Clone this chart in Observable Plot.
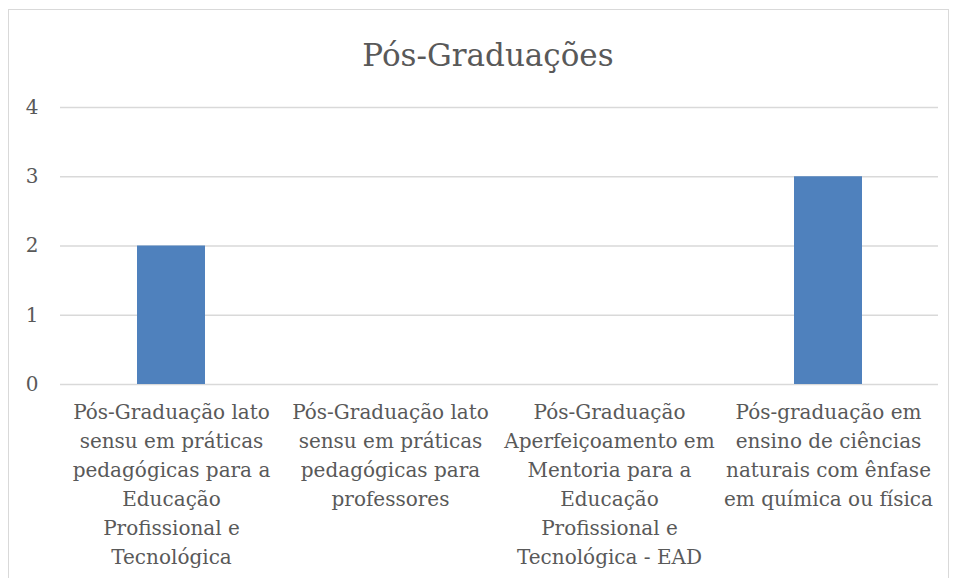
<!DOCTYPE html>
<html><head><meta charset="utf-8">
<script src="https://cdn.jsdelivr.net/npm/d3@7"></script>
<script src="https://cdn.jsdelivr.net/npm/@observablehq/plot@0.6"></script>
<style>
body{margin:0;background:#fff;}
#wrap{position:relative;width:953px;height:578px;overflow:hidden;font-family:"DejaVu Serif",serif;}
#frame{position:absolute;left:8px;top:9px;width:941px;height:600px;border:1.5px solid #d9d9d9;box-sizing:border-box;}
#title{position:absolute;left:0;top:37px;width:976px;text-align:center;font-size:31px;color:#595959;}
#chart{position:absolute;left:0;top:80px;}
</style></head><body>
<div id="wrap"><div id="frame"></div><div id="title">Pós-Graduações</div><div id="chart"></div></div>
<script>
const categories = [
  "Pós-Graduação lato sensu em práticas pedagógicas para a Educação Profissional e Tecnológica",
  "Pós-Graduação lato sensu em práticas pedagógicas para professores",
  "Pós-Graduação Aperfeiçoamento em Mentoria para a Educação Profissional e Tecnológica - EAD",
  "Pós-graduação em ensino de ciências naturais com ênfase em química ou física"
];
const values = [2, 0, 0, 3];
const tickLabels = [
  "Pós-Graduação lato\nsensu em práticas\npedagógicas para a\nEducação\nProfissional e\nTecnológica",
  "Pós-Graduação lato\nsensu em práticas\npedagógicas para\nprofessores",
  "Pós-Graduação\nAperfeiçoamento em\nMentoria para a\nEducação\nProfissional e\nTecnológica - EAD",
  "Pós-graduação em\nensino de ciências\nnaturais com ênfase\nem química ou física"
];
const yTicks = [0, 1, 2, 3, 4];

const data = categories.map((c, i) => ({category: c, value: values[i]}));
const labelOf = new Map(categories.map((c, i) => [c, tickLabels[i]]));

const chart = Plot.plot({
  width: 953,
  height: 498,
  marginLeft: 60,
  marginRight: 15,
  marginTop: 27,
  marginBottom: 194,
  style: {fontFamily: "DejaVu Serif, serif", color: "#595959", background: "transparent"},
  x: {domain: categories, paddingInner: 0.69, paddingOuter: 0.345, label: null},
  y: {domain: [0, 4], label: null},
  marks: [
    Plot.ruleY(yTicks, {stroke: "#d9d9d9", strokeWidth: 1.5}),
    Plot.barY(data, {x: "category", y: "value", fill: "#4f81bd"}),
    Plot.axisY({ticks: yTicks, tickFormat: d3.format("d"), tickSize: 0, tickPadding: 22, fontSize: 20, label: null, fill: "#595959"}),
    Plot.axisX({tickSize: 0, tickPadding: 14, fontSize: 20, lineHeight: 1.45, tickFormat: d => labelOf.get(d), label: null, fill: "#595959"})
  ]
});
document.getElementById("chart").appendChild(chart);
</script>
</body></html>
